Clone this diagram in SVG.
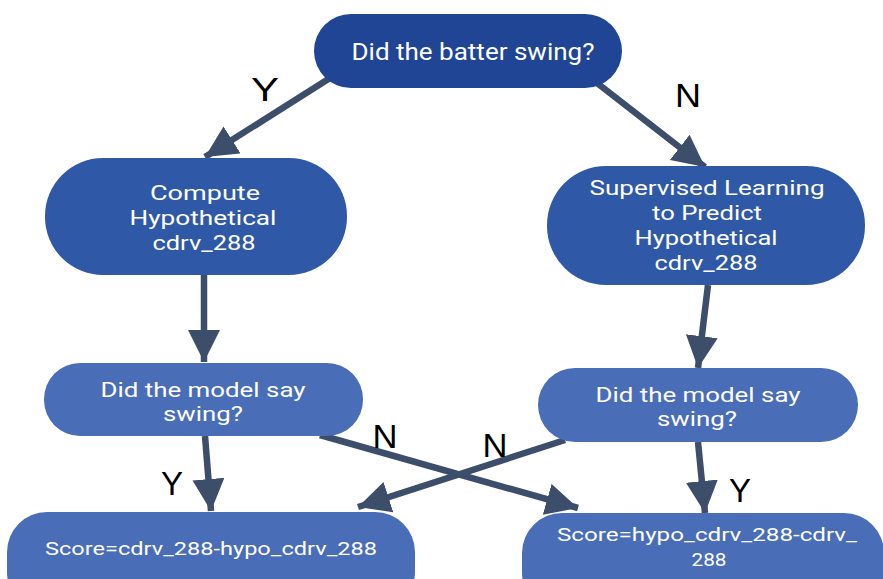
<svg xmlns="http://www.w3.org/2000/svg" width="883" height="579" viewBox="0 0 883 579">
<style>
.t{font-family:Roboto,"Liberation Sans",sans-serif;fill:#ffffff;text-anchor:middle}
.l{font-family:"Liberation Sans",Arial,sans-serif;fill:#000000;font-size:33px;text-anchor:middle}
.c{stroke:#3d4e6a;stroke-width:6.5;fill:none}
</style>
<defs>
<marker id="ah" markerUnits="userSpaceOnUse" markerWidth="36" markerHeight="36" refX="32" refY="16" orient="auto">
<path d="M0,0 L32,16 L0,32 Z" fill="#3d4e6a"/>
</marker>
</defs>
<rect width="883" height="579" fill="#ffffff"/>
<g id="connectors">
<line class="c" x1="330" y1="78" x2="205" y2="157" marker-end="url(#ah)"/>
<line class="c" x1="597" y1="83" x2="705" y2="167" marker-end="url(#ah)"/>
<line class="c" x1="204" y1="275" x2="204" y2="362" marker-end="url(#ah)"/>
<line class="c" x1="708" y1="285" x2="698" y2="368" marker-end="url(#ah)"/>
<line class="c" x1="205" y1="436" x2="211" y2="511" marker-end="url(#ah)"/>
<line class="c" x1="698" y1="442" x2="705" y2="513" marker-end="url(#ah)"/>
<line class="c" x1="320" y1="435" x2="578" y2="508" marker-end="url(#ah)"/>
<line class="c" x1="565" y1="440" x2="358" y2="507" marker-end="url(#ah)"/>
<text class="l" x="265" y="101" font-size="35" textLength="28" lengthAdjust="spacingAndGlyphs">Y</text>
<text class="l" x="688" y="107" textLength="26" lengthAdjust="spacingAndGlyphs">N</text>
<text class="l" x="385" y="448" font-size="31" textLength="25" lengthAdjust="spacingAndGlyphs">N</text>
<text class="l" x="495" y="457" font-size="31" textLength="25" lengthAdjust="spacingAndGlyphs">N</text>
<text class="l" x="172" y="495">Y</text>
<text class="l" x="740" y="502">Y</text>
</g>
<g id="n1">
<rect x="314" y="14" width="308" height="74" rx="37" fill="#1f4594"/>
<text class="t" x="473" y="60" font-size="24" textLength="243" lengthAdjust="spacingAndGlyphs">Did the batter swing?</text>
</g>
<g id="n2">
<rect x="45" y="158" width="302" height="117" rx="58" fill="#2f59a6"/>
<text class="t" x="205" y="200" font-size="21" textLength="110" lengthAdjust="spacingAndGlyphs">Compute</text>
<text class="t" x="203" y="225" font-size="21" textLength="147" lengthAdjust="spacingAndGlyphs">Hypothetical</text>
<text class="t" x="204" y="250" font-size="21" textLength="103" lengthAdjust="spacingAndGlyphs">cdrv_288</text>
</g>
<g id="n3">
<rect x="547" y="166" width="318" height="119" rx="59" fill="#2f59a6"/>
<text class="t" x="707" y="195" font-size="21" textLength="235" lengthAdjust="spacingAndGlyphs">Supervised Learning</text>
<text class="t" x="707" y="220" font-size="21" textLength="110" lengthAdjust="spacingAndGlyphs">to Predict</text>
<text class="t" x="706" y="245" font-size="21" textLength="143" lengthAdjust="spacingAndGlyphs">Hypothetical</text>
<text class="t" x="706" y="270" font-size="21" textLength="103" lengthAdjust="spacingAndGlyphs">cdrv_288</text>
</g>
<g id="n4">
<rect x="44" y="363" width="319" height="73" rx="36" fill="#4a6db8"/>
<text class="t" x="203" y="397" font-size="21" textLength="205" lengthAdjust="spacingAndGlyphs">Did the model say</text>
<text class="t" x="203" y="421" font-size="21" textLength="80" lengthAdjust="spacingAndGlyphs">swing?</text>
</g>
<g id="n5">
<rect x="538" y="368" width="320" height="74" rx="37" fill="#4a6db8"/>
<text class="t" x="698" y="402" font-size="21" textLength="205" lengthAdjust="spacingAndGlyphs">Did the model say</text>
<text class="t" x="697" y="426" font-size="21" textLength="80" lengthAdjust="spacingAndGlyphs">swing?</text>
</g>
<g id="n6">
<rect x="7" y="512" width="408" height="100" rx="40" fill="#4a6db8"/>
<text class="t" x="211" y="555" font-size="18" textLength="332" lengthAdjust="spacingAndGlyphs">Score=cdrv_288-hypo_cdrv_288</text>
</g>
<g id="n7">
<rect x="522" y="513" width="362" height="100" rx="40" fill="#4a6db8"/>
<text class="t" x="707" y="541" font-size="18" textLength="300" lengthAdjust="spacingAndGlyphs">Score=hypo_cdrv_288-cdrv_</text>
<text class="t" x="709" y="566" font-size="18" textLength="35" lengthAdjust="spacingAndGlyphs">288</text>
</g>
</svg>
